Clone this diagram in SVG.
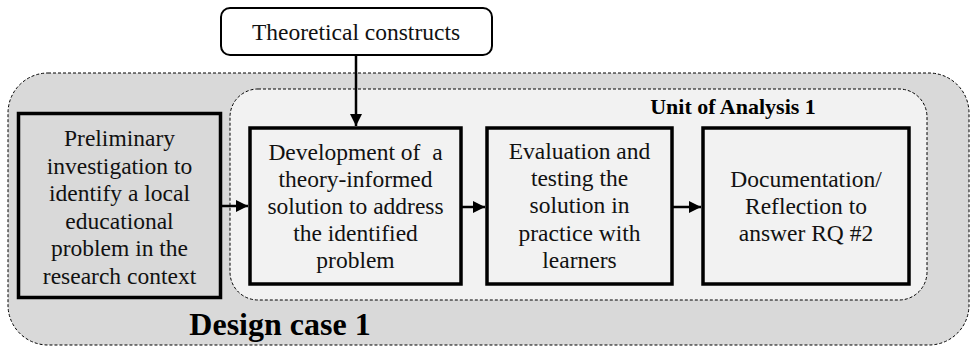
<svg xmlns="http://www.w3.org/2000/svg" width="971" height="347" viewBox="0 0 971 347">
  <defs>
    <marker id="arrow" viewBox="0 0 10 10" refX="10" refY="5" markerWidth="15" markerHeight="12" markerUnits="userSpaceOnUse" orient="auto">
      <path d="M0,0 L10,5 L0,10 Z" fill="#000"/>
    </marker>
  </defs>
  <style>
    .frame { stroke: #000; stroke-width: 1; stroke-dasharray: 3 2; }
    .step { stroke: #000; stroke-width: 3.5; }
    .txt { font-family: "Liberation Serif", "Times New Roman", serif; font-size: 23.5px; fill: #111; text-anchor: middle; }
    .bold { font-family: "Liberation Serif", "Times New Roman", serif; font-weight: bold; fill: #000; text-anchor: middle; }
    .conn { stroke: #000; stroke-width: 2.5; fill: none; }
  </style>

  <rect width="971" height="347" fill="#fff"/>

  <!-- Design case container -->
  <g id="design-case">
    <rect class="frame" x="8" y="73" width="961" height="272" rx="40" ry="40" fill="#d9d9d9"/>
    <text class="bold" x="280" y="335" font-size="32">Design case 1</text>
  </g>

  <!-- Unit of analysis container -->
  <g id="unit-of-analysis">
    <rect class="frame" x="230" y="89" width="697" height="211" rx="28" ry="28" fill="#f2f2f2"/>
    <text class="bold" x="733" y="114" font-size="22">Unit of Analysis 1</text>
  </g>

  <g id="theoretical-constructs">
    <rect x="221" y="8" width="271" height="47" rx="9" ry="9" fill="#fff" stroke="#000" stroke-width="2"/>
    <text class="txt" x="356" y="40">Theoretical constructs</text>
  </g>

  <g id="preliminary-investigation">
    <rect class="step" x="18.5" y="113.5" width="202" height="184" fill="#d9d9d9"/>
    <text class="txt" x="119.5" y="146">Preliminary</text>
    <text class="txt" x="119.5" y="173.5">investigation to</text>
    <text class="txt" x="119.5" y="201">identify a local</text>
    <text class="txt" x="119.5" y="228.5">educational</text>
    <text class="txt" x="119.5" y="256">problem in the</text>
    <text class="txt" x="119.5" y="283.5">research context</text>
  </g>

  <g id="development">
    <rect class="step" x="250" y="128" width="211" height="156" fill="#f2f2f2"/>
    <text class="txt" x="355.5" y="160" xml:space="preserve">Development of  a</text>
    <text class="txt" x="355.5" y="187">theory-informed</text>
    <text class="txt" x="355.5" y="214">solution to address</text>
    <text class="txt" x="355.5" y="241">the identified</text>
    <text class="txt" x="355.5" y="268">problem</text>
  </g>

  <g id="evaluation">
    <rect class="step" x="487" y="128" width="185" height="156" fill="#f2f2f2"/>
    <text class="txt" x="579.5" y="159">Evaluation and</text>
    <text class="txt" x="579.5" y="186">testing the</text>
    <text class="txt" x="579.5" y="213">solution in</text>
    <text class="txt" x="579.5" y="240.5">practice with</text>
    <text class="txt" x="579.5" y="268">learners</text>
  </g>

  <g id="documentation">
    <rect class="step" x="703" y="128" width="206" height="156" fill="#f2f2f2"/>
    <text class="txt" x="806" y="187">Documentation/</text>
    <text class="txt" x="806" y="214">Reflection to</text>
    <text class="txt" x="806" y="241">answer RQ #2</text>
  </g>

  <!-- Connectors -->
  <g id="connectors">
    <line class="conn" x1="356" y1="55" x2="356" y2="126" marker-end="url(#arrow)"/>
    <line class="conn" x1="221" y1="206" x2="248" y2="206" marker-end="url(#arrow)"/>
    <line class="conn" x1="462" y1="207" x2="485" y2="207" marker-end="url(#arrow)"/>
    <line class="conn" x1="673" y1="207" x2="701" y2="207" marker-end="url(#arrow)"/>
  </g>
</svg>
